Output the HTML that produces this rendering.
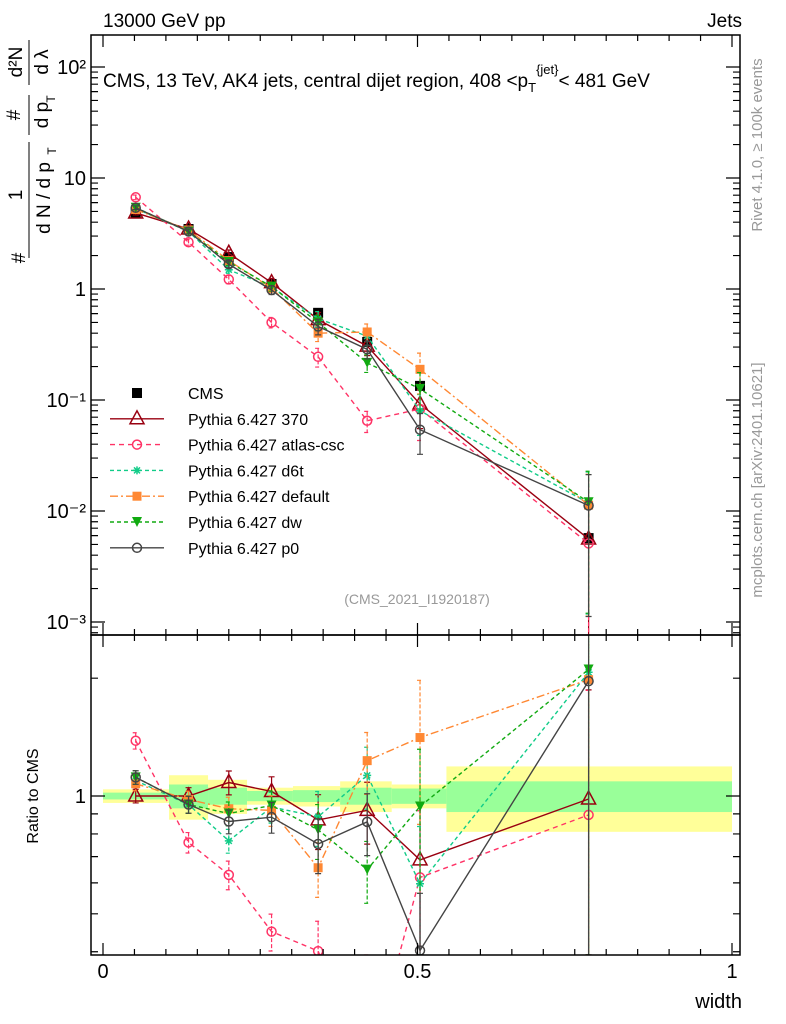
<!DOCTYPE html>
<html><head><meta charset="utf-8"><style>
html,body{margin:0;background:#fff;width:786px;height:1024px;overflow:hidden;font-family:"Liberation Sans",sans-serif}
svg{position:absolute;left:0;top:0;display:block}
</style></head><body>
<svg id="c" width="786" height="1024" xmlns="http://www.w3.org/2000/svg" font-family="Liberation Sans, sans-serif"></svg>
<script>
const binCenters=[0.052,0.136,0.2,0.268,0.342,0.42,0.504,0.772];
const binEdges=[0,0.105,0.167,0.229,0.302,0.377,0.459,0.546,1.0];
const cmsVals=[4.84,3.47,1.94,1.11,0.61,0.333,0.134,0.0057];
const cmsTotErr=[0.04,0.13,0.1,0.05,0.06,0.09,0.07,0.19];
const cmsStatErr=[0.02,0.07,0.05,0.03,0.035,0.05,0.045,0.09];
const s370=[4.84,3.47,2.1,1.14,0.53,0.306,0.092,0.0056];
const sAtlas=[6.7,2.64,1.22,0.50,0.245,0.065,0.083,0.0051];
const sD6t=[5.3,3.3,1.49,1.04,0.54,0.376,0.080,0.0118];
const sDefault=[5.2,3.4,1.8,1.02,0.40,0.41,0.189,0.0113];
const sDw=[5.4,3.3,1.75,1.05,0.50,0.216,0.126,0.012];
const sP0=[5.4,3.3,1.67,0.98,0.46,0.286,0.054,0.0112];
const mcRelErr=[0.04,0.05,0.07,0.09,0.16,0.18,0.4,0.9];
const yTickLabels=["10²","10","1","10⁻¹","10⁻²","10⁻³"];

const svg=document.getElementById('c');
const NS='http://www.w3.org/2000/svg';
function el(t,a,p){const e=document.createElementNS(NS,t);for(const k in a)e.setAttribute(k,a[k]);(p||svg).appendChild(e);return e;}
const L=91,R=740,T=35,MB=635,RB=955;
const X=v=>103+v*629;
const Y=v=>289-111*Math.log10(v);
const RY=r=>796-170*Math.log(r);

const defs=el('defs',{});
const c1=el('clipPath',{id:'cm'},defs);el('rect',{x:L,y:T,width:R-L,height:MB-T},c1);
const c2=el('clipPath',{id:'cr'},defs);el('rect',{x:L,y:MB,width:R-L,height:RB-MB},c2);
const gMain=el('g',{'clip-path':'url(#cm)'});


const gRat=el('g',{'clip-path':'url(#cr)'});



for(let i=0;i<8;i++){
 const x0=X(binEdges[i]),x1=X(binEdges[i+1]);
 const y=el('rect',{x:x0,y:RY(1+cmsTotErr[i]),width:x1-x0,height:RY(1-cmsTotErr[i])-RY(1+cmsTotErr[i]),fill:'#ffff99'},gRat);
 
 
 const g=el('rect',{x:x0,y:RY(1+cmsStatErr[i]),width:x1-x0,height:RY(1-cmsStatErr[i])-RY(1+cmsStatErr[i]),fill:'#99ff99'},gRat);
 
 
}

function marker(g,type,x,y,col){
 let m;
 if(type==='sq')m=el('rect',{x:x-5,y:y-5,width:10,height:10,fill:col},g);
 else if(type==='sqs')m=el('rect',{x:x-4.5,y:y-4.5,width:9,height:9,fill:col},g);
 else if(type==='tri')m=el('path',{d:`M${x},${y-8}L${x+7},${y+5}L${x-7},${y+5}Z`,fill:'none',stroke:col,'stroke-width':1.5},g);
 else if(type==='circ')m=el('circle',{cx:x,cy:y,r:4.5,fill:'none',stroke:col,'stroke-width':1.5},g);
 else if(type==='star')m=el('path',{d:`M${x-4},${y}h8M${x},${y-4}v8M${x-3},${y-3}l6,6M${x+3},${y-3}l-6,6`,stroke:col,'stroke-width':1.5},g);
 else if(type==='dtri')m=el('path',{d:`M${x-5},${y-5}L${x+5},${y-5}L${x},${y+5}Z`,fill:col},g);
 return m;
}
const series=[
 {name:'Pythia 6.427 370',vals:s370,col:'#990011',dash:'',m:'tri',key:'370'},
 {name:'Pythia 6.427 atlas-csc',vals:sAtlas,col:'#ff3366',dash:'5,4',m:'circ',key:'atlas-csc'},
 {name:'Pythia 6.427 d6t',vals:sD6t,col:'#11cc88',dash:'4,3',m:'star',key:'d6t'},
 {name:'Pythia 6.427 default',vals:sDefault,col:'#ff8833',dash:'8,3,2,3',m:'sqs',key:'default'},
 {name:'Pythia 6.427 dw',vals:sDw,col:'#11aa11',dash:'4,3',m:'dtri',key:'dw'},
 {name:'Pythia 6.427 p0',vals:sP0,col:'#444444',dash:'',m:'circ',key:'p0'}
];
function drawSeries(s,g,yf,valf){
 const pts=s.vals.map((v,i)=>[X(binCenters[i]),yf(valf(v,i))]);
 const ln=el('polyline',{points:pts.map(p=>p.join(',')).join(' '),fill:'none',stroke:s.col,'stroke-width':1.4,'stroke-dasharray':s.dash},g);
 
 
 s.vals.forEach((v,i)=>{
  const e=mcRelErr[i]*(s.key==='atlas-csc'?1.2:1);
  const x=X(binCenters[i]);
  const yu=Math.max(yf(valf(v,i)*(1+e)),T),yd=Math.min(yf(Math.max(valf(v,i)*(1-e),1e-6)),RB);
  const eb=el('path',{d:`M${x},${yu}V${yd}M${x-3},${yu}h6M${x-3},${yd}h6`,stroke:s.col,'stroke-width':1.2,'stroke-dasharray':s.dash?'4,2':''},g);
  
  
  const m=marker(g,s.m,x,yf(valf(v,i)),s.col);
  
  
 });
}
cmsVals.forEach((v,i)=>{
 const x=X(binCenters[i]);
 const e=el('path',{d:`M${x},${Y(v*(1+cmsTotErr[i]))}V${Y(v*(1-cmsTotErr[i]))}`,stroke:'#000','stroke-width':1.2},gMain);
 
 
 const m=marker(gMain,'sq',x,Y(v),'#000');
 
 
});
series.forEach(s=>{
 drawSeries(s,gMain,Y,(v)=>v);
 drawSeries(s,gRat,RY,(v,i)=>v/cmsVals[i]);
});

const f1=el('rect',{x:L,y:T,width:R-L,height:MB-T,fill:'none',stroke:'#000','stroke-width':1.5});

const f2=el('rect',{x:L,y:MB,width:R-L,height:RB-MB,fill:'none',stroke:'#000','stroke-width':1.5});


let tk='';
for(let k=0;k<=20;k++){
 const v=k*0.05,x=X(v),big=(k%10===0),len=big?12:6;
 tk+=`M${x},${RB}v${-len}M${x},${MB}v${-len}M${x},${MB}v${len}M${x},${T}v${len}`;
}
for(let d=-4;d<=2;d++){for(let m=1;m<10;m++){const v=m*Math.pow(10,d);const y=Y(v);if(y<T||y>MB)continue;const len=m===1?14:7;tk+=`M${L},${y}h${len}M${R},${y}h${-len}`;}}
[0.4,0.5,0.6,0.7,0.8,0.9,1,2].forEach(r=>{const y=RY(r);const len=(r===1)?14:7;tk+=`M${L},${y}h${len}M${R},${y}h${-len}`;});
const tks=el('path',{d:tk,stroke:'#000','stroke-width':1.2,fill:'none'});


function txt(s,x,y,a,name){const t=el('text',Object.assign({x:x,y:y,'font-size':18,fill:'#000'},a||{}));t.textContent=s;return t;}
[[0,'0'],[0.5,'0.5'],[1,'1']].forEach(([v,s])=>txt(s,X(v),978,{'text-anchor':'middle','font-size':20},'x-tick-label'));
const yv=[100,10,1,0.1,0.01,0.001];
yTickLabels.forEach((s,i)=>txt(s,86,Y(yv[i])+7,{'text-anchor':'end','font-size':20},'y-tick-label'));
txt('1',86,RY(1)+7,{'text-anchor':'end','font-size':20},'ratio-tick-label');
txt('width',742,1008,{'text-anchor':'end','font-size':20},'x-axis-title');
txt('13000 GeV pp',103,27,{'font-size':19},'process-label');
txt('Jets',742,27,{'text-anchor':'end','font-size':19},'jets-label');
const tt=txt('',103,87,{'font-size':19},'plot-title');
tt.innerHTML='CMS, 13 TeV, AK4 jets, central dijet region, 408 &lt;p<tspan font-size="13" dy="5">T</tspan><tspan font-size="13" dy="-18">{jet}</tspan><tspan dy="13">&lt; 481 GeV</tspan>';
txt('(CMS_2021_I1920187)',417,604,{'text-anchor':'middle','font-size':14,fill:'#999'},'analysis-id');
txt('Ratio to CMS',38,796,{'text-anchor':'middle','font-size':16,transform:'rotate(-90 38 796)'},'ratio-axis-title');
txt('Rivet 4.1.0, ≥ 100k events',762,145,{'text-anchor':'middle','font-size':15,fill:'#999',transform:'rotate(-90 762 145)'},'rivet-label');
txt('mcplots.cern.ch [arXiv:2401.10621]',762,480,{'text-anchor':'middle','font-size':15,fill:'#999',transform:'rotate(-90 762 480)'},'mcplots-label');

// y axis title (rotated fraction layout)
const yg=el('g',{transform:'rotate(-90)'});

function rt(s,cy,x,fs,name){const t=el('text',{x:-cy,y:x,'font-size':fs,'text-anchor':'middle',fill:'#000'},yg);t.textContent=s;return t;}
rt('#',258,25,19,'y-title-hash1');
rt('1',195,22,19,'y-title-one');
rt('d N / d p',198,50,19,'y-title-denominator1');
rt('T',151,56,12,'y-title-sub1');
el('path',{d:'M-258,29H-142'},yg).setAttribute('stroke','#000');
rt('#',115,20,19,'y-title-hash2');
rt('d p',115,48,19,'y-title-dp');
rt('T',99,55,12,'y-title-sub2');
rt('d²N',62,22,19,'y-title-d2n');
rt('d λ',62,48,19,'y-title-dlambda');
el('path',{d:'M-135,29H-95M-85,29H-40'},yg).setAttribute('stroke','#000');

const lg=el('g',{});

const ly0=393,ls=25.8;
const cm=marker(lg,'sq',137,ly0,'#000');

txt('CMS',188,ly0+6,{'font-size':16},'legend-entry-cms');
series.forEach((s,i)=>{
 const y=ly0+ls*(i+1);
 const l=el('path',{d:`M110,${y}h54`,stroke:s.col,'stroke-width':1.4,'stroke-dasharray':s.dash},lg);
 
 const m=marker(lg,s.m,137,y,s.col);
 
 txt(s.name,188,y+6,{'font-size':16},'legend-entry-'+s.key);
});
</script>
</body></html>
